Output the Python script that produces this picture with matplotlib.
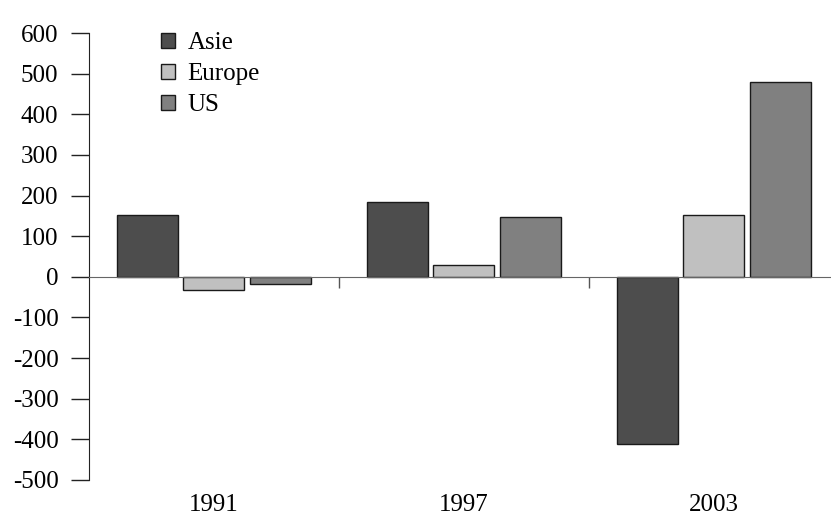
import numpy as np
import matplotlib
matplotlib.use("Agg")
import matplotlib.pyplot as plt

years = ["1991", "1997", "2003"]
series = ["Asie", "Europe", "US"]
asie = [152, 185, -412]
europe = [-33, 29, 151]
us = [-18, 147, 479]
colors = ["#4d4d4d", "#c0c0c0", "#808080"]

plt.rcParams["font.family"] = ["Liberation Serif", "DejaVu Serif"]
plt.rcParams["axes.unicode_minus"] = False

fig = plt.figure(figsize=(8.31, 5.17), dpi=100)
ax = fig.add_axes([89 / 831, 37 / 517, 750 / 831, 447 / 517])

x = np.arange(len(years))
pitch = 0.8 / 3
for i, (name, vals) in enumerate(zip(series, [asie, europe, us])):
    ax.bar(x + (i - 1) * pitch, vals, width=0.244, color=colors[i],
           edgecolor="#1a1a1a", linewidth=1.0, label=name, zorder=3)

ax.set_xlim(-0.5, 2.5)
ax.set_ylim(-500, 600)
ax.set_yticks(range(-500, 700, 100))
ax.tick_params(axis="y", direction="out", length=13, width=1, color="#222222",
               pad=9, labelsize=18)

ax.spines["top"].set_visible(False)
ax.spines["right"].set_visible(False)
ax.spines["left"].set_color("#222222")
ax.spines["bottom"].set_position(("data", 0))
ax.spines["bottom"].set_color("#666666")
ax.spines["bottom"].set_zorder(4)

ax.set_xticks(x)
ax.set_xticklabels([])
ax.tick_params(axis="x", which="major", length=0)
ax.set_xticks([0.5, 1.5], minor=True)
ax.tick_params(axis="x", which="minor", direction="out", length=8, width=1,
               color="#555555")

for xi, lab in zip(x, years):
    ax.text(xi, -0.055, lab, transform=ax.get_xaxis_transform(),
            ha="center", va="center", fontsize=18)

ax.legend(loc="upper left", bbox_to_anchor=(161 / 831, 1 - 32 / 517),
          bbox_transform=fig.transFigure, frameon=False, fontsize=18,
          handlelength=0.56, handleheight=0.56, handletextpad=0.5,
          labelspacing=0.36, borderpad=0, borderaxespad=0)

fig.savefig("out.png", dpi=100)
